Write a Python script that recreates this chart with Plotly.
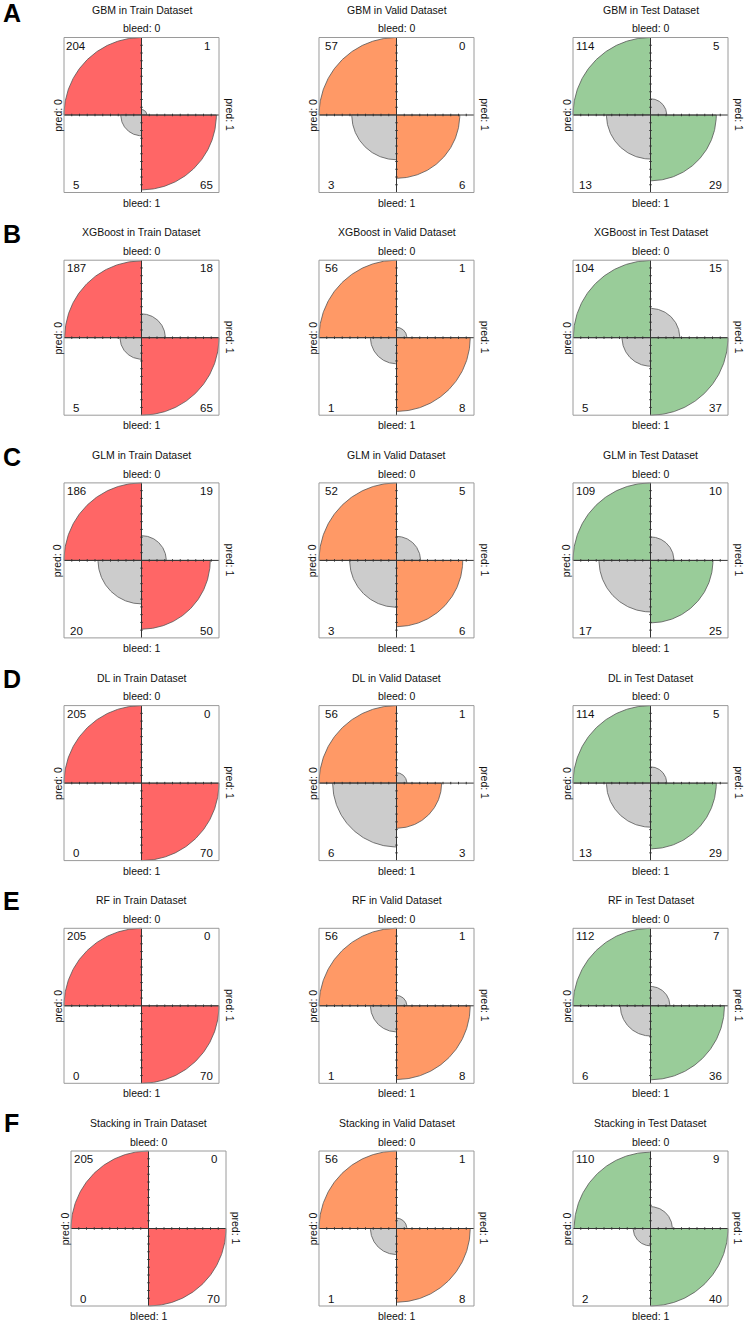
import numpy as np
import plotly.graph_objects as go

# ---------------- data ----------------
models = ["GBM", "XGBoost", "GLM", "DL", "RF", "Stacking"]
letters = ["A", "B", "C", "D", "E", "F"]
datasets = ["Train", "Valid", "Test"]
# cell order: [bleed0/pred0, bleed0/pred1, bleed1/pred0, bleed1/pred1]
gbm = [[204, 1, 5, 65], [57, 0, 3, 6], [114, 5, 13, 29]]
xgboost = [[187, 18, 5, 65], [56, 1, 1, 8], [104, 15, 5, 37]]
glm = [[186, 19, 20, 50], [52, 5, 3, 6], [109, 10, 17, 25]]
dl = [[205, 0, 0, 70], [56, 1, 6, 3], [114, 5, 13, 29]]
rf = [[205, 0, 0, 70], [56, 1, 1, 8], [112, 7, 6, 36]]
stacking = [[205, 0, 0, 70], [56, 1, 1, 8], [110, 9, 2, 40]]
row_labels = ["bleed: 0", "bleed: 1"]
col_labels = ["pred: 0", "pred: 1"]

all_tables = [gbm, xgboost, glm, dl, rf, stacking]
diag_colors = {"Train": "#FF6666", "Valid": "#FF9966", "Test": "#99CC99"}
off_color = "#CCCCCC"

W, H = 745, 1323
FONT = "Liberation Sans, Arial, sans-serif"
TXT = "#111111"

# panel geometry (pixels)
col_cx = [141.5, 396.5, 650.5]
row_cy0 = 115.0
row_step = 222.7
unit = 77.5          # pixels per data unit (box half width)
R = 1.04             # axis range half-width

fig = go.Figure()
annotations = []

# quadrant angle spans (degrees) for the four cells
spans = [(90, 180), (0, 90), (180, 270), (270, 360)]
count_pos = [(-0.84, 0.895), (0.84, 0.895), (-0.84, -0.905), (0.84, -0.905)]


def paper(cx, cy, x, y):
    return (cx + x * unit) / W, 1 - (cy - y * unit) / H


def label(cx, cy, x, y, text, size, angle=0):
    px, py = paper(cx, cy, x, y)
    annotations.append(dict(x=px, y=py, xref="paper", yref="paper", text=text,
                            showarrow=False, textangle=angle,
                            font=dict(family=FONT, size=size, color=TXT),
                            xanchor="center", yanchor="middle"))


k = 0
for r, (model, tables) in enumerate(zip(models, all_tables)):
    cy = row_cy0 + r * row_step
    for c, (ds, tab) in enumerate(zip(datasets, tables)):
        k += 1
        cx = col_cx[c] + (7 if (r == 5 and c == 0) else 0)
        xa = "x" if k == 1 else f"x{k}"
        ya = "y" if k == 1 else f"y{k}"
        xkey = "xaxis" if k == 1 else f"xaxis{k}"
        ykey = "yaxis" if k == 1 else f"yaxis{k}"
        x0 = (cx - R * unit) / W
        x1 = (cx + R * unit) / W
        y0 = 1 - (cy + R * unit) / H
        y1 = 1 - (cy - R * unit) / H
        axcfg = dict(range=[-R, R], visible=False, showgrid=False,
                     zeroline=False, fixedrange=True)
        fig.update_layout({xkey: dict(domain=[x0, x1], anchor=ya, **axcfg),
                           ykey: dict(domain=[y0, y1], anchor=xa, **axcfg)})

        # standardize by rows (bleed), radius ~ sqrt
        a, b, cc, d = tab
        p = np.array([a / (a + b), b / (a + b), cc / (cc + d), d / (cc + d)], dtype=float)
        rad = np.sqrt(p / p.max())
        for j in range(4):
            if rad[j] <= 0:
                continue
            th = np.radians(np.linspace(spans[j][0], spans[j][1], 120))
            xs = np.concatenate([[0], rad[j] * np.cos(th), [0]])
            ys = np.concatenate([[0], rad[j] * np.sin(th), [0]])
            col = diag_colors[ds] if j in (0, 3) else off_color
            fig.add_trace(go.Scatter(x=xs, y=ys, xaxis=xa, yaxis=ya, mode="lines",
                                     fill="toself", fillcolor=col,
                                     line=dict(color="#555555", width=0.8),
                                     hoverinfo="skip", showlegend=False))

        # axes lines with ticks
        lx, ly = [-1, 1, None, 0, 0, None], [0, 0, None, -1, 1, None]
        for t in np.round(np.arange(-0.9, 0.95, 0.1), 2):
            if abs(t) < 1e-9:
                continue
            lx += [t, t, None]
            ly += [-0.016, 0.016, None]
            lx += [-0.016, 0.016, None]
            ly += [t, t, None]
        fig.add_trace(go.Scatter(x=lx, y=ly, xaxis=xa, yaxis=ya, mode="lines",
                                 line=dict(color="#333333", width=1),
                                 hoverinfo="skip", showlegend=False))
        # box
        fig.add_trace(go.Scatter(x=[-1, 1, 1, -1, -1], y=[-1, -1, 1, 1, -1],
                                 xaxis=xa, yaxis=ya, mode="lines",
                                 line=dict(color="#9a9a9a", width=1),
                                 hoverinfo="skip", showlegend=False))

        # counts
        for j in range(4):
            label(cx, cy, count_pos[j][0], count_pos[j][1], str(tab[j]), 11.5)
        # margin labels
        label(cx, cy, 0, 1.12, row_labels[0], 10.5)
        label(cx, cy, 0, -1.13, row_labels[1], 10.5)
        label(cx, cy, -1.08, 0, col_labels[0], 10.5, -90)
        label(cx, cy, 1.14, 0, col_labels[1], 10.5, 90)
        # title
        label(cx, cy, 0, 1.36, f"{model} in {ds} Dataset", 10.5)

    # panel letter
    annotations.append(dict(x=11.5 / W, y=1 - (12.5 + r * 222.0) / H, xref="paper", yref="paper",
                            text=f"<b>{letters[r]}</b>", showarrow=False,
                            font=dict(family=FONT, size=25, color="#000000"),
                            xanchor="center", yanchor="middle"))

fig.update_layout(width=W, height=H, margin=dict(l=0, r=0, t=0, b=0),
                  paper_bgcolor="white", plot_bgcolor="rgba(0,0,0,0)",
                  showlegend=False, annotations=annotations)
fig.write_html("out.html", config={"displayModeBar": False},
               post_script="document.body.style.margin='0';document.body.style.overflow='hidden';")
